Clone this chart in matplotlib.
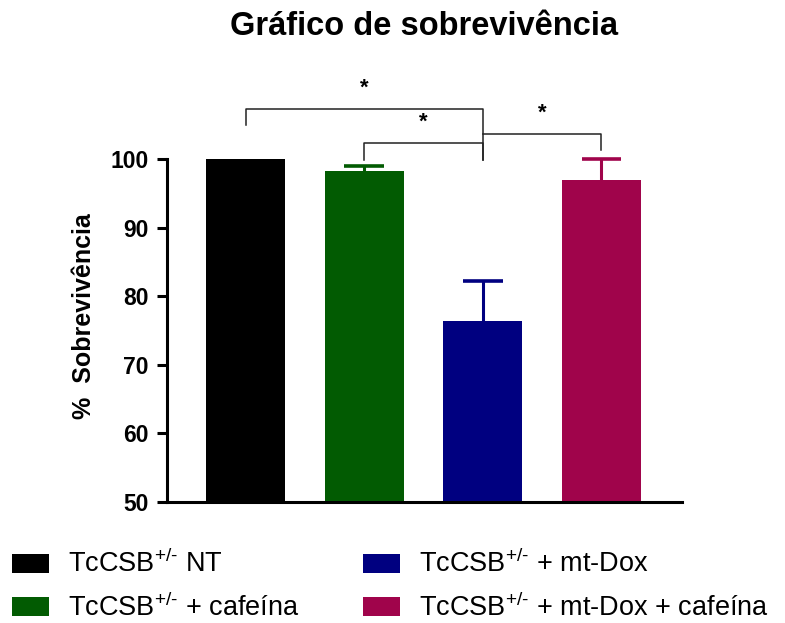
import numpy as np
import matplotlib.pyplot as plt
from matplotlib.patches import Patch

plt.rcParams['font.family'] = ['Liberation Sans', 'DejaVu Sans']
plt.rcParams['mathtext.fontset'] = 'custom'
plt.rcParams['mathtext.rm'] = 'Liberation Sans'
plt.rcParams['mathtext.it'] = 'Liberation Sans'

# Survival data (mean and upper SD) for each group
groups = [r'TcCSB$^{\text{+/-}}$ NT',
          r'TcCSB$^{\text{+/-}}$ + cafeína',
          r'TcCSB$^{\text{+/-}}$ + mt-Dox',
          r'TcCSB$^{\text{+/-}}$ + mt-Dox + cafeína']
survival = [100.0, 98.3, 76.4, 96.9]
sd = [0.0, 0.7, 5.8, 3.1]
colors = ['#000000', '#025b02', '#000080', '#a0044b']

# significance brackets: (left x, right x, bar top, left tip, right tip)
brackets = [(0, 2, 107.3, 105.0, 99.9),
            (1, 2, 102.3, 99.9, 99.9),
            (2, 3, 103.6, 103.6, 101.3)]

fig = plt.figure(figsize=(7.85, 6.23), dpi=100)
ax = fig.add_axes([167/785, 1 - 502/623, (682 - 167)/785, (502 - 70)/623])

x = np.arange(len(survival))
width = 0.667
ax.bar(x, survival, width=width, color=colors)
# upper error bars only
for xi, v, e, c in zip(x, survival, sd, colors):
    if e > 0:
        ax.vlines(xi, v, v + e, color=c, lw=2.2)
        ax.hlines(v + e, xi - width / 4, xi + width / 4, color=c, lw=2.6)

for x0, x1, top, t0, t1 in brackets:
    ax.plot([x0, x0, x1, x1], [t0, top, top, t1], color='#222222', lw=1.1, clip_on=False)
    ax.text((x0 + x1) / 2, top + 1.5, '*', ha='center', va='bottom',
            fontsize=16, fontweight='bold')

ax.set_xlim(-0.662, 3.68)
ax.set_ylim(50, 113)
ax.set_yticks([50, 60, 70, 80, 90, 100])
ax.spines['top'].set_visible(False)
ax.spines['right'].set_visible(False)
ax.spines['left'].set_bounds(50, 100)
ax.spines['left'].set_linewidth(2.2)
ax.spines['bottom'].set_linewidth(2.2)
ax.set_xticks([])
ax.tick_params(axis='y', length=7.2, width=2.2, labelsize=16.5, pad=6)
for lab in ax.get_yticklabels():
    lab.set_fontweight('bold')
ax.set_ylabel('%  Sobrevivência', fontsize=18, fontweight='bold')
ax.yaxis.set_label_coords(-0.137, 0.43)

fig.text(0.54, 0.958, 'Gráfico de sobrevivência', ha='center', va='center',
         fontsize=23.5, fontweight='bold')

handles = [Patch(facecolor=c, edgecolor='none') for c in colors]
fig.legend(handles, groups, ncol=2, loc='upper left', bbox_to_anchor=(12/785, 1 - 550/623),
           frameon=False, fontsize=19.5, handlelength=1.37, handleheight=0.7,
           handletextpad=0.7, labelspacing=0.56, columnspacing=2.35,
           borderpad=0, borderaxespad=0)

fig.savefig('out.png', dpi=100)
